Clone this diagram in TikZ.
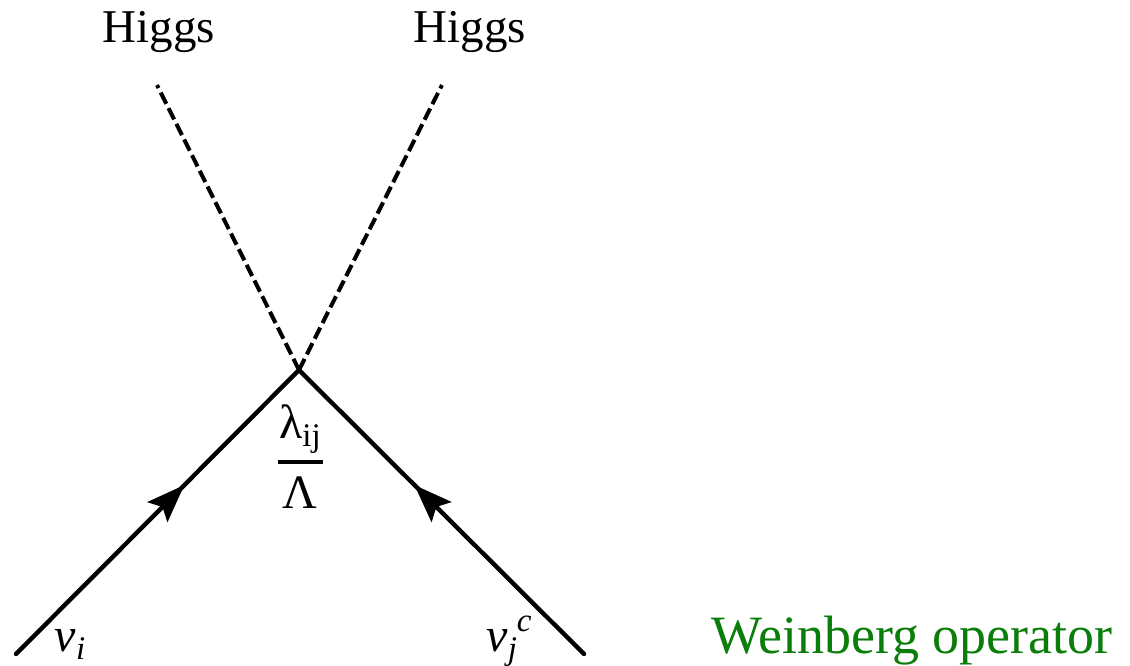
\documentclass[tikz,border=0pt]{standalone}
\usepackage{fontspec}
\setmainfont{Liberation Serif}
\usetikzlibrary{arrows.meta,decorations.markings}
\definecolor{opgreen}{RGB}{10,125,10}

\begin{document}
\begin{tikzpicture}[
  x=1pt, y=-1pt,
  font=\fontsize{47}{52}\selectfont,
  label/.style={inner sep=0pt, anchor=base},
  small/.style={inner sep=0pt, anchor=base, font=\fontsize{48}{52}\selectfont},
  fermion/.style={line width=4.4pt, line cap=round, postaction={decorate},
    decoration={markings, mark=at position #1 with {\arrow{Stealth[length=38pt, width=28pt, inset=7pt]}}}},
  higgs/.style={line width=4pt, dash pattern=on 12.5pt off 5pt}
]
\useasboundingbox (0,0) rectangle (1130,665);

\coordinate (vertex) at (299,370);
\coordinate (nuin) at (16,654);
\coordinate (nuout) at (584,654);
\coordinate (higgsl) at (157,85);
\coordinate (higgsr) at (442,85);

\draw[fermion=0.595] (nuin) -- (vertex);
\draw[fermion=0.595] (nuout) -- (vertex);
\draw[higgs] (vertex) -- (higgsl);
\draw[higgs] (vertex) -- (higgsr);

\node[label] (hl) at (159,42) {Higgs};
\node[label] (hr) at (470,42) {Higgs};

\node[small] (lam) at (300,438) {λ\raisebox{-8pt}{\fontsize{33}{36}\selectfont ij}};
\node[small] (cap) at (300,508) {Λ};
\draw[line width=3.2pt] (278,462) -- (323,462);

\node[small] (nui) at (70,651) {\textit{ν}\raisebox{-8pt}{\fontsize{33}{36}\selectfont\textit{i}}};
\node[small] (nuj) at (509,651) {\textit{ν}\raisebox{-8pt}{\fontsize{33}{36}\selectfont\textit{j}}\raisebox{20pt}{\fontsize{33}{36}\selectfont\textit{c}}};

\node[label, text=opgreen] (title) at (912,653) {\fontsize{54}{60}\selectfont Weinberg operator};

\end{tikzpicture}
\end{document}
